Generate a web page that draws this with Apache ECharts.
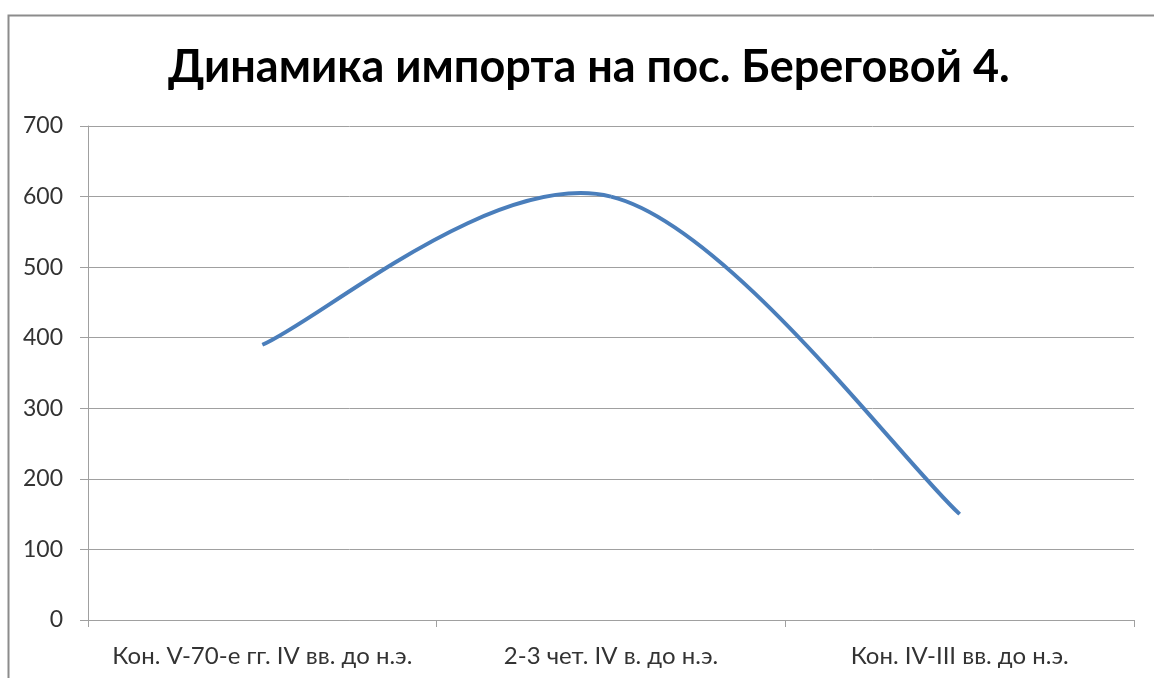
<!DOCTYPE html>
<html><head><meta charset="utf-8">
<script src="https://cdn.jsdelivr.net/npm/echarts@6/dist/echarts.min.js"></script>
<style>html,body{margin:0;padding:0;background:#fff}#c{width:1154px;height:678px}</style>
</head><body><div id="c"></div>
<script>
const categories = ['Кон. V-70-е гг. IV вв. до н.э.', '2-3 чет. IV в. до н.э.', 'Кон. IV-III вв. до н.э.'];
const importValues = [390, 600, 150];
const titleText = 'Динамика импорта на пос. Береговой 4.';

// Excel-style smoothed line (Catmull-Rom Bezier) drawn through the axis scales
function renderSmooth(params, api) {
  if (params.dataIndex !== 0) return null;
  const pts = importValues.map((v, i) => api.coord([i, v]));
  const n = pts.length;
  const children = [];
  for (let i = 0; i < n - 1; i++) {
    const p0 = pts[i], p1 = pts[i + 1];
    let c1, c2;
    if (i === 0) {
      c1 = [p0[0] + (p1[0] - p0[0]) / 6, p0[1] + (p1[1] - p0[1]) / 6];
    } else {
      const pm = pts[i - 1];
      c1 = [p0[0] + (p1[0] - pm[0]) / 6, p0[1] + (p1[1] - pm[1]) / 6];
    }
    if (i === n - 2) {
      c2 = [p1[0] - (p1[0] - p0[0]) / 6, p1[1] - (p1[1] - p0[1]) / 6];
    } else {
      const pn = pts[i + 2];
      c2 = [p1[0] - (pn[0] - p0[0]) / 6, p1[1] - (pn[1] - p0[1]) / 6];
    }
    children.push({
      type: 'bezierCurve',
      shape: { x1: p0[0], y1: p0[1], x2: p1[0], y2: p1[1], cpx1: c1[0], cpy1: c1[1], cpx2: c2[0], cpy2: c2[1] },
      style: { fill: null, stroke: '#4a7ebb', lineWidth: 4, lineCap: 'butt' }
    });
  }
  return { type: 'group', children };
}

const chart = echarts.init(document.getElementById('c'));
chart.setOption({
  animation: false,
  backgroundColor: '#fff',
  graphic: [{
    type: 'rect', left: 6, top: 13,
    shape: { width: 1160, height: 700 },
    style: { fill: 'none', stroke: '#8c8c8c', lineWidth: 2 }
  }],
  title: {
    text: titleText, left: 163, top: 40,
    textStyle: { fontFamily: 'Lato', fontWeight: 'bold', fontSize: 45, color: '#000' }
  },
  grid: { left: 88, right: 20, top: 126, bottom: 58, containLabel: false },
  xAxis: {
    type: 'category', data: categories, boundaryGap: true,
    axisLine: { lineStyle: { color: '#a0a0a0', width: 1 } },
    axisTick: { show: true, interval: 0, alignWithLabel: false, length: 7, lineStyle: { color: '#a0a0a0' } },
    axisLabel: { interval: 0, hideOverlap: false, fontFamily: 'Lato', fontSize: 24, color: '#333', margin: 24 }
  },
  yAxis: {
    type: 'value', min: 0, max: 700, interval: 100,
    axisLine: { show: true, lineStyle: { color: '#a0a0a0', width: 1 } },
    axisTick: { show: true, length: 8, lineStyle: { color: '#a0a0a0' } },
    axisLabel: { fontFamily: 'Lato', fontSize: 23, color: '#333', margin: 25 },
    splitLine: { lineStyle: { color: '#a0a0a0', width: 1 } }
  },
  series: [{
    type: 'custom',
    data: importValues.map((v, i) => [i, v]),
    encode: { x: 0, y: 1 },
    renderItem: renderSmooth,
    clip: false
  }]
});
</script></body></html>
